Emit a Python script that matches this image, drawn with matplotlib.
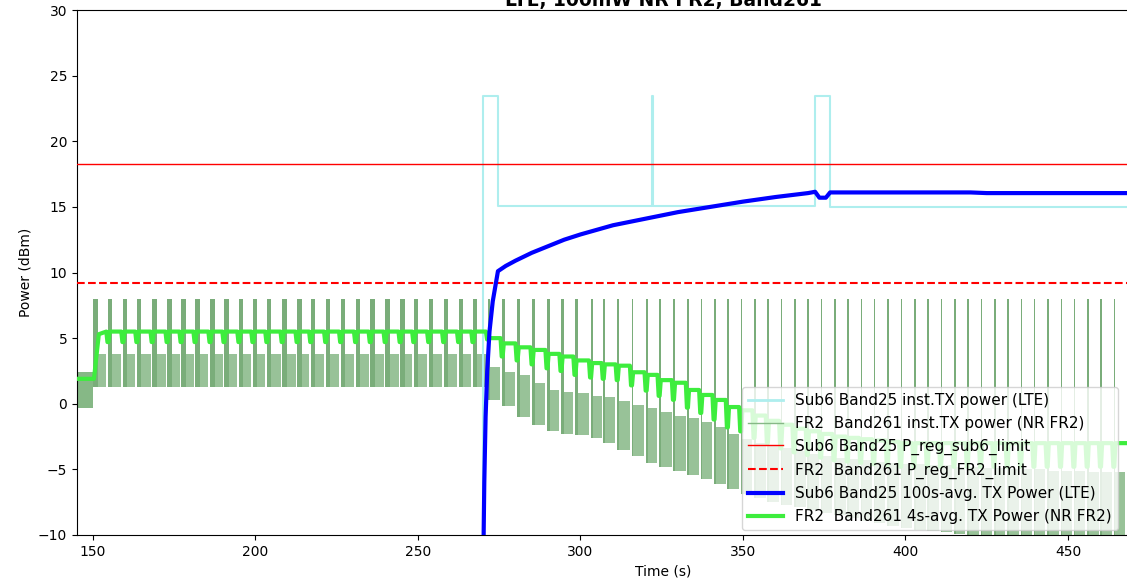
import numpy as np
import matplotlib
matplotlib.use("Agg")
import matplotlib.pyplot as plt
from matplotlib.lines import Line2D

# ---- data ----

# Sub6 Band25 instantaneous TX power (LTE), step trace
lte_t = [145.0, 270.0, 270.0, 274.6, 274.6, 321.9, 321.9, 322.4, 322.4,
         372.2, 372.2, 376.8, 376.8, 470.0]
lte_p = [-60.0, -60.0, 23.45, 23.45, 15.1, 15.1, 23.45, 23.45, 15.1,
         15.1, 23.45, 23.45, 15.0, 15.0]

# FR2 Band261 instantaneous TX power: burst start times, per-period band
burst_t = [150.0, 154.6, 159.2, 163.5, 168.2, 172.8, 177.1, 181.4, 186.0, 190.3,
           194.9, 199.2, 203.5, 208.2, 212.8, 217.0, 221.6, 226.2, 230.8, 235.3,
           239.9, 244.5, 248.7, 253.3, 257.9, 262.5, 266.9,
           271.4, 275.9, 280.5, 285.1, 289.7, 294.0, 298.3, 303.1,
           307.0, 311.3, 315.7, 320.2, 324.2, 328.6, 332.9, 337.0, 341.1, 345.2,
           349.3, 353.4, 357.5, 361.6, 365.7, 369.8, 373.9, 378.0, 382.1, 386.2,
           390.2, 394.4,
           398.5, 402.6, 406.7, 410.8, 414.9, 419.0, 423.1, 427.2, 431.3, 435.4,
           439.5, 443.6, 447.7, 451.8, 455.9, 460.0, 464.1]
burst_w = [1.4] * 27 + [0.8] * 8 + [0.5] * 22 + [0.5] * 17
burst_top = 8.0
band_hi = [3.8] * 27 + \
    [2.8, 2.4, 2.2, 1.6, 1.05, 0.9, 0.8, 0.6] + \
    [0.5, 0.2, -0.1, -0.3, -0.6, -0.9, -1.1, -1.4, -1.8, -2.3, -2.7,
     -3.0, -3.2, -3.4, -3.6, -3.8, -4.0, -4.1, -4.2, -4.3, -4.4, -4.5] + \
    [-4.6, -4.6, -4.7, -4.7, -4.8, -4.8, -4.9, -4.9, -5.0, -5.0, -5.0,
     -5.1, -5.1, -5.1, -5.2, -5.2, -5.2]
band_lo = [1.3] * 27 + \
    [0.3, -0.2, -1.0, -1.6, -2.1, -2.3, -2.4, -2.6] + \
    [-3.0, -3.5, -4.0, -4.5, -4.8, -5.1, -5.4, -5.7, -6.1, -6.5, -6.9,
     -7.2, -7.5, -7.7, -7.9, -8.1, -8.3, -8.5, -8.7, -8.9, -9.1, -9.3] + \
    [-9.5, -9.6, -9.7, -9.8, -9.9, -10.0, -10.1, -10.2, -10.3, -10.4, -10.5,
     -10.5, -10.6, -10.6, -10.7, -10.7, -10.8]
pre_t = [145.0, 150.0]
pre_lo, pre_hi = -0.3, 2.4

# limits
sub6_limit = 18.25
fr2_limit = 9.2

# Sub6 Band25 100s-avg TX power
avg100_t = [270.1, 270.4, 270.8, 271.3, 272.0, 273.0, 274.6, 277.0, 280.0, 285.0,
            290.0, 295.0, 300.0, 310.0, 320.0, 330.0, 340.0, 350.0, 360.0, 370.0,
            372.2, 373.5, 375.5, 376.8, 420.0, 425.0, 470.0]
avg100_p = [-12.0, -6.0, -1.0, 2.5, 5.5, 7.8, 10.1, 10.5, 10.9, 11.5,
            12.0, 12.5, 12.9, 13.6, 14.1, 14.6, 15.0, 15.4, 15.75, 16.05,
            16.15, 15.7, 15.7, 16.1, 16.1, 16.05, 16.05]

# FR2 Band261 4s-avg TX power: level before the first burst, then per-period peak / dip
avg4_pre = 1.9
avg4_peak = [5.5] * 27 + \
    [5.0, 4.6, 4.3, 4.1, 3.8, 3.6, 3.3, 3.1] + \
    [3.0, 2.9, 2.4, 2.2, 1.8, 1.6, 1.05, 0.67, 0.29, -0.25, -0.5,
     -0.9, -1.3, -1.6, -1.9, -2.1, -2.3, -2.5, -2.6, -2.7, -2.8, -2.9] + \
    [-3.0] * 17
avg4_dip = [1.9] + [4.7] * 26 + \
    [4.9, 3.6, 3.3, 3.0, 2.7, 2.5, 2.2, 2.0] + \
    [1.9, 1.8, 1.4, 1.0, 0.6, 0.3, -0.3, -0.7, -1.2, -1.8, -2.1,
     -2.6, -3.0, -3.4, -3.7, -3.9, -4.1, -4.3, -4.4, -4.5, -4.6, -4.7] + \
    [-4.8] * 17

# ---- plotting ----
fig = plt.figure(figsize=(11.27, 5.85), dpi=100)
ax = fig.add_axes([77 / 1127, 50 / 585, 1173 / 1127, 525 / 585])

ax.plot(lte_t, lte_p, color="#aeeeee", lw=1.5, zorder=2)

fr2_col = "#86b886"
ax.fill_between(pre_t, [pre_lo] * 2, [pre_hi] * 2, color=fr2_col, lw=0, zorder=1)
nb = len(burst_t)
for i in range(nb):
    t0 = burst_t[i]
    t1 = burst_t[i + 1] if i + 1 < nb else t0 + 4.1
    w = burst_w[i]
    ax.bar(t0, burst_top - band_lo[i], bottom=band_lo[i], width=w,
           align="edge", color="#7aad7a", lw=0, zorder=1)
    ax.bar(t0 + w, band_hi[i] - band_lo[i], bottom=band_lo[i],
           width=(t1 - t0 - w) * 0.85, align="edge", color=fr2_col,
           alpha=0.85, lw=0, zorder=1)

ax.axhline(sub6_limit, color="red", lw=1, zorder=3)
ax.axhline(fr2_limit, color="red", lw=1.5, ls="--", zorder=3)

# build the 4s-avg trace from the per-period peaks and dips
a_t = [145.0, burst_t[0] + 0.3]
a_p = [avg4_pre, avg4_pre]
a_t.append(burst_t[0] + 1.8)
a_p.append(avg4_peak[0] - 0.2)
for i in range(1, nb):
    b = burst_t[i]
    a_t += [b - 0.5, b - 0.15, b + 0.15, b + 0.5]
    a_p += [avg4_peak[i - 1], avg4_dip[i], avg4_dip[i], avg4_peak[i]]
a_t.append(470.0)
a_p.append(avg4_peak[-1])
ax.plot(a_t, a_p, color="#3ded3d", lw=3, zorder=4)

ax.plot(avg100_t, avg100_p, color="blue", lw=3, zorder=5)

ax.set_xlim(145.08, 506.0)
ax.set_ylim(-10, 30)
ax.set_xticks([150, 200, 250, 300, 350, 400, 450])
ax.set_yticks([-10, -5, 0, 5, 10, 15, 20, 25, 30])
ax.tick_params(labelsize=10)
ax.set_xlabel("Time (s)", fontsize=10)
ax.set_ylabel("Power (dBm)", fontsize=10)
ax.set_title("Sub6 Band25 / FR2 Band261 TX power averaging\n"
             "LTE, 100mW NR FR2, Band261",
             fontsize=13.5, fontweight="bold", pad=0)

handles = [
    Line2D([], [], color="#aeeeee", lw=2),
    Line2D([], [], color="#86b886", lw=1),
    Line2D([], [], color="red", lw=1),
    Line2D([], [], color="red", lw=1.5, ls="--"),
    Line2D([], [], color="blue", lw=3),
    Line2D([], [], color="#3ded3d", lw=3),
]
labels = [
    "Sub6 Band25 inst.TX power (LTE)",
    "FR2  Band261 inst.TX power (NR FR2)",
    "Sub6 Band25 P_reg_sub6_limit",
    "FR2  Band261 P_reg_FR2_limit",
    "Sub6 Band25 100s-avg. TX Power (LTE)",
    "FR2  Band261 4s-avg. TX Power (NR FR2)",
]
ax.legend(handles, labels, loc="lower right", fontsize=11,
          bbox_to_anchor=(1118 / 1127, 55 / 585), bbox_transform=fig.transFigure,
          borderaxespad=0, handlelength=2.3)

fig.savefig("out.png", dpi=100)
